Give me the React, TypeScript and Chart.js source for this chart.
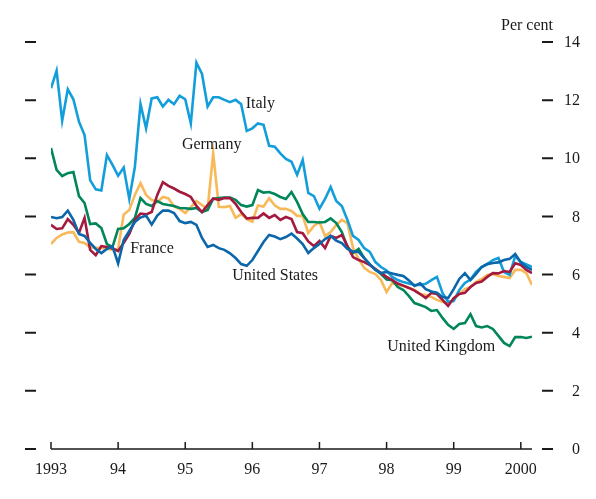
import React, { useEffect, useRef } from "react";
import { Chart, registerables } from "chart.js";

Chart.register(...registerables);

// ---- data (monthly, Jan 1993 – Mar 2000) ----
const startYear = 1993;
const yearTicks = [1993, 1994, 1995, 1996, 1997, 1998, 1999, 2000];
const yearTickLabels = ["1993", "94", "95", "96", "97", "98", "99", "2000"];
const valueTicks = [0, 2, 4, 6, 8, 10, 12, 14];
const valueTickLabels = ["0", "2", "4", "6", "8", "10", "12", "14"];
const unitLabel = "Per cent";

const italy = [
  12.41, 13.01, 11.29, 12.37, 12.03, 11.26, 10.8, 9.25, 8.93, 8.89, 10.11, 9.77,
  9.4, 9.68, 8.6, 9.71, 11.87, 11.03, 12.06, 12.1, 11.78, 12.01, 11.86, 12.15,
  12.03, 11.2, 13.29, 12.9, 11.78, 12.1, 12.1, 12.01, 11.93, 12.01, 11.86, 10.94,
  11.03, 11.2, 11.15, 10.43, 10.4, 10.17, 9.98, 9.88, 9.43, 9.94, 8.81, 8.7,
  8.27, 8.6, 9.01, 8.53, 8.36, 7.88, 7.33, 7.19, 6.91, 6.78, 6.43, 6.26,
  6.14, 5.92, 5.81, 5.74, 5.69, 5.64, 5.64, 5.68, 5.81, 5.92, 5.37, 5.06,
  5.09, 5.47, 5.71, 5.83, 6.09, 6.26, 6.36, 6.5, 6.57, 6.09, 5.99, 6.64,
  6.43, 6.35, 6.26,
];
const germany = [
  7.05, 7.26, 7.38, 7.45, 7.46, 7.13, 7.09, 6.93, 6.92, 6.91, 6.9, 6.85,
  6.88, 8.07, 8.22, 8.74, 9.15, 8.74, 8.57, 8.5, 8.67, 8.62, 8.34, 8.26,
  8.12, 8.32, 8.53, 8.39, 8.26, 10.17, 8.33, 8.32, 8.36, 7.95, 8.08, 7.91,
  7.82, 8.38, 8.34, 8.63, 8.38, 8.26, 8.26, 8.19, 8.02, 8.02, 7.43, 7.67,
  7.81, 7.33, 7.46, 7.71, 7.88, 7.77, 6.91, 6.54, 6.23, 6.09, 6.02, 5.81,
  5.4, 5.71, 5.64, 5.61, 5.54, 5.47, 5.33, 5.3, 5.23, 5.13, 5.06, 4.99,
  5.16, 5.33, 5.5, 5.57, 5.74, 5.85, 5.99, 6.02, 5.95, 5.92, 5.88, 6.16,
  6.16, 6.05, 5.64,
];
const france = [
  7.71, 7.57, 7.59, 7.91, 7.71, 7.43, 7.95, 6.85, 6.67, 6.98, 6.95, 6.9,
  6.81, 7.09, 7.4, 7.88, 8.1, 8.07, 8.15, 8.74, 9.18, 9.05, 8.96, 8.85,
  8.77, 8.67, 8.36, 8.15, 8.39, 8.62, 8.57, 8.63, 8.63, 8.43, 8.15, 7.93,
  7.95, 7.95, 8.1, 7.95, 8.05, 7.88, 7.98, 7.91, 7.46, 7.42, 7.14, 6.98,
  7.16, 6.91, 7.33, 7.26, 7.36, 6.98, 6.6, 6.5, 6.43, 6.33, 6.19, 6.05,
  5.92, 5.81, 5.69, 5.62, 5.54, 5.45, 5.33, 5.19, 5.37, 5.33, 5.13, 4.92,
  5.19, 5.33, 5.37, 5.57, 5.71, 5.76, 5.92, 6.05, 6.04, 6.12, 6.09, 6.39,
  6.33, 6.16, 6.05,
];
const unitedStates = [
  7.98, 7.94, 7.98, 8.2, 7.88, 7.4, 7.33, 7.09, 6.88, 6.74, 6.88, 6.97,
  6.38, 7.19, 7.5, 7.81, 7.96, 8.03, 7.72, 8.03, 8.2, 8.2, 8.12, 7.84,
  7.77, 7.81, 7.71, 7.26, 6.95, 7.02, 6.91, 6.85, 6.73, 6.57, 6.36, 6.3,
  6.5, 6.81, 7.12, 7.36, 7.31, 7.22, 7.29, 7.41, 7.24, 7.05, 6.74, 6.91,
  7.05, 7.22, 7.33, 7.17, 7.08, 6.88, 6.79, 6.78, 6.57, 6.35, 6.16, 6.05,
  6.09, 6.04, 5.99, 5.95, 5.8, 5.61, 5.7, 5.5, 5.42, 5.38, 5.23, 5.19,
  5.5, 5.85, 6.05, 5.81, 6.02, 6.26, 6.36, 6.4, 6.42, 6.5, 6.54, 6.71,
  6.42, 6.26, 6.16,
];
const unitedKingdom = [
  10.35, 9.6, 9.39, 9.49, 9.53, 8.7, 8.46, 7.74, 7.76, 7.6, 7.05, 6.95,
  7.57, 7.59, 7.74, 7.95, 8.63, 8.43, 8.36, 8.53, 8.43, 8.39, 8.36, 8.29,
  8.28, 8.26, 8.29, 8.15, 8.22, 8.6, 8.63, 8.65, 8.65, 8.57, 8.39, 8.34,
  8.39, 8.91, 8.82, 8.84, 8.77, 8.67, 8.6, 8.84, 8.5, 8.08, 7.81, 7.81,
  7.79, 7.81, 7.93, 7.77, 7.46, 6.95, 6.74, 6.88, 6.57, 6.35, 6.17, 6.02,
  5.83, 5.81, 5.57, 5.47, 5.26, 5.02, 4.95, 4.88, 4.75, 4.78, 4.51, 4.27,
  4.13, 4.3, 4.33, 4.64, 4.23, 4.18, 4.23, 4.13, 3.89, 3.65, 3.54, 3.85,
  3.85, 3.82, 3.86,
];

const seriesNames = ["United States", "France", "United Kingdom", "Italy", "Germany"];
const seriesColors = ["#0b67aa", "#a41a3e", "#00865a", "#139edb", "#f8b95a"];
const seriesValues = [unitedStates, france, unitedKingdom, italy, germany];

// label anchors (year, value) — left edge / vertical middle of the text
const labelNames = ["Italy", "Germany", "France", "United States", "United Kingdom"];
const labelYears = [1995.9, 1994.95, 1994.18, 1995.7, 1998.01];
const labelValues = [11.87, 10.46, 6.88, 5.95, 3.51];

const FONT = '16px "Liberation Serif", "Times New Roman", serif';

const decorPlugin = {
  id: "decor",
  afterDraw(chart: any) {
    const ctx: CanvasRenderingContext2D = chart.ctx;
    const xs = chart.scales.x;
    const ys = chart.scales.y;
    const area = chart.chartArea;
    ctx.save();
    ctx.strokeStyle = "#1a1a1a";
    ctx.fillStyle = "#1a1a1a";
    ctx.font = FONT;

    // x axis line
    ctx.lineWidth = 1.5;
    ctx.beginPath();
    ctx.moveTo(area.left, area.bottom);
    ctx.lineTo(area.right, area.bottom);
    ctx.stroke();

    // x ticks (pointing up) and labels
    ctx.textAlign = "center";
    ctx.textBaseline = "alphabetic";
    yearTicks.forEach((yr, i) => {
      const px = xs.getPixelForValue(yr);
      ctx.beginPath();
      ctx.moveTo(px, area.bottom);
      ctx.lineTo(px, area.bottom - 7);
      ctx.stroke();
      ctx.fillText(yearTickLabels[i], px, area.bottom + 25);
    });

    // y dashes (left & right) and right labels
    ctx.lineWidth = 2;
    ctx.textAlign = "right";
    ctx.textBaseline = "middle";
    valueTicks.forEach((v, i) => {
      const py = ys.getPixelForValue(v);
      ctx.beginPath();
      ctx.moveTo(area.left - 26, py);
      ctx.lineTo(area.left - 15, py);
      ctx.moveTo(area.right + 10, py);
      ctx.lineTo(area.right + 21, py);
      ctx.stroke();
      ctx.fillText(valueTickLabels[i], area.right + 48, py + 1);
    });

    // unit
    ctx.textAlign = "right";
    ctx.fillText(unitLabel, area.right + 21, ys.getPixelForValue(14) - 16);

    // series labels
    ctx.textAlign = "left";
    labelNames.forEach((name, i) => {
      ctx.fillText(name, xs.getPixelForValue(labelYears[i]), ys.getPixelForValue(labelValues[i]));
    });
    ctx.restore();
  },
};

export default function App() {
  const ref = useRef<HTMLCanvasElement | null>(null);
  useEffect(() => {
    if (!ref.current) return;
    const datasets = seriesValues.map((vals, s) => ({
      label: seriesNames[s],
      data: vals.map((v, i) => ({ x: startYear + i / 12, y: v })),
      borderColor: seriesColors[s],
      backgroundColor: seriesColors[s],
      borderWidth: 2.6,
      pointRadius: 0,
      tension: 0,
      fill: false,
      order: s,
    }));
    const chart = new Chart(ref.current, {
      type: "line",
      data: { datasets },
      options: {
        animation: false,
        responsive: true,
        maintainAspectRatio: false,
        layout: { padding: { left: 51, right: 64, top: 42, bottom: 50 } },
        plugins: { legend: { display: false }, tooltip: { enabled: false } },
        scales: {
          x: { type: "linear", min: 1993, max: 2000 + 2 / 12, display: false },
          y: { type: "linear", min: 0, max: 14, display: false },
        },
      },
      plugins: [decorPlugin],
    });
    return () => chart.destroy();
  }, []);
  return (
    <div style={{ position: "fixed", left: 0, top: 0, width: 596, height: 499, background: "#fff" }}>
      <canvas ref={ref} />
    </div>
  );
}
